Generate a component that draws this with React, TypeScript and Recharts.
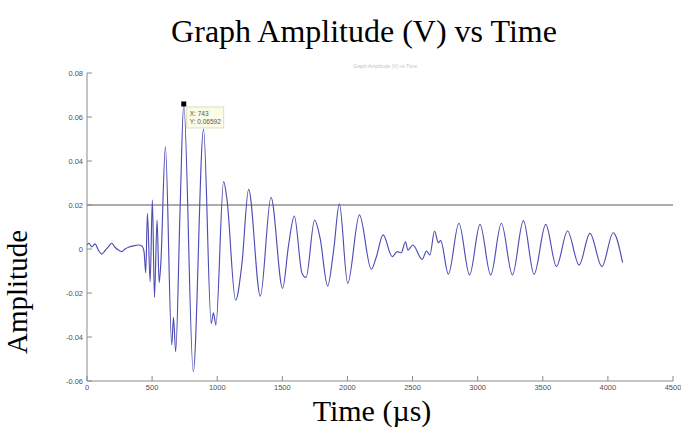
import React from 'react';
import { LineChart, Line, XAxis, YAxis, ReferenceLine, ReferenceDot } from 'recharts';

// ---- data ----
const timeUs: number[] = [
  0, 15, 36, 62, 87, 113, 138, 164, 190, 215, 241, 267, 292, 318, 356, 395, 421, 438,
  451, 464, 485, 502, 518, 538, 554, 567, 602, 651, 664, 681, 715, 743, 816, 895,
  954, 971, 990, 1049, 1074, 1141, 1190, 1241, 1331, 1413, 1502, 1548, 1592, 1651, 1682,
  1748, 1790, 1848, 1894, 1938, 2002, 2092, 2183, 2220, 2274, 2344, 2382, 2413, 2446,
  2464, 2502, 2574, 2607, 2633, 2669, 2698, 2716, 2775, 2856, 2938, 3018, 3100, 3182,
  3267, 3351, 3433, 3523, 3605, 3690, 3779, 3862, 3954, 4041, 4113,
];
const amplitudeV: number[] = [
  0.0018, 0.0026, 0.001, 0.0023, -0.0005, -0.0023, -0.0008, 0.001, 0.0026, 0.0008, -0.0005, -0.0012, 0.0, 0.0008, 0.0014, 0.0018, 0.0014, -0.0012,
  -0.0108, 0.0162, -0.0149, 0.0223, -0.022, 0.0132, -0.0153, -0.0064, 0.0465, -0.0436, -0.031, -0.0467, 0.0185, 0.06592, -0.0558, 0.0545,
  -0.0338, -0.029, -0.0345, 0.0306, 0.023, -0.0233, -0.0065, 0.0271, -0.0214, 0.0235, -0.0179, 0.0018, 0.015, -0.011, -0.0129,
  0.0132, 0.0049, -0.0168, -0.0005, 0.0205, -0.0156, 0.0155, -0.0092, -0.004, 0.0064, -0.0035, -0.0012, -0.0017, 0.0033,
  -0.0005, 0.0018, -0.0047, -0.0009, -0.0027, 0.0082, 0.0029, 0.0038, -0.0114, 0.0117, -0.0118, 0.0112, -0.0118, 0.0117,
  -0.0118, 0.0129, -0.0115, 0.0112, -0.008, 0.0082, -0.0073, 0.0071, -0.008, 0.0074, -0.0062,
];
const xTicks: number[] = [0, 500, 1000, 1500, 2000, 2500, 3000, 3500, 4000, 4500];
const yTicks: number[] = [-0.06, -0.04, -0.02, 0, 0.02, 0.04, 0.06, 0.08];
const thresholdV = 0.02;
const cursorX = 743;
const cursorY = 0.06592;
const titleText = 'Graph Amplitude (V) vs Time';
const xTitle = 'Time (µs)';
const yTitle = 'Amplitude';

const data = timeUs.map((t, i) => ({ t, v: amplitudeV[i] }));

const AXIS = '#8a8a8a';
const TICKTXT = '#505050';
const TICKFONT = '"Liberation Sans", Arial, sans-serif';
const SERIF = '"Liberation Serif", "Times New Roman", serif';

const fmtY = (v: number) => (v === 0 ? '0' : v.toFixed(2));

const BottomTick = (p: any) => {
  const { x, y, payload } = p;
  return (
    <g>
      <line x1={x} x2={x} y1={y} y2={y - 5} stroke={AXIS} strokeWidth={1} />
      <text x={x} y={y + 9} textAnchor="middle" fontSize={7.5} fill={TICKTXT} fontFamily={TICKFONT}>
        {payload.value}
      </text>
    </g>
  );
};
const LeftTick = (p: any) => {
  const { x, y, payload } = p;
  return (
    <g>
      <line x1={x} x2={x + 5} y1={y} y2={y} stroke={AXIS} strokeWidth={1} />
      <text x={x - 4} y={y} dy="0.35em" textAnchor="end" fontSize={7.5} fill={TICKTXT} fontFamily={TICKFONT}>
        {fmtY(payload.value)}
      </text>
    </g>
  );
};
const TopTick = (p: any) => {
  const { x, y } = p;
  return <line x1={x} x2={x} y1={y} y2={y + 5} stroke={AXIS} strokeWidth={1} />;
};
const RightTick = (p: any) => {
  const { x, y } = p;
  return <line x1={x} x2={x - 5} y1={y} y2={y} stroke={AXIS} strokeWidth={1} />;
};

const CursorShape = (p: any) => {
  const { cx, cy } = p;
  return (
    <g>
      <rect x={cx + 3} y={cy + 3} width={37} height={21} fill="#fbfbe6" stroke="#d6d6b8" strokeWidth={0.8} />
      <text x={cx + 6} y={cy + 12} fontSize={6.5} fill="#555" fontFamily={TICKFONT}>{`X: ${cursorX}`}</text>
      <text x={cx + 6} y={cy + 20} fontSize={6.5} fill="#555" fontFamily={TICKFONT}>{`Y: ${cursorY}`}</text>
      <rect x={cx - 2.5} y={cy - 2.5} width={5} height={5} fill="#000" />
    </g>
  );
};

export default function App() {
  return (
    <div style={{ position: 'absolute', left: 0, top: 0, width: 681, height: 441, background: '#fff' }}>
      <LineChart width={681} height={441} data={data} margin={{ top: 73, right: 8, bottom: 40, left: 0 }}>
        <XAxis
          dataKey="t"
          type="number"
          domain={[0, 4500]}
          ticks={xTicks}
          allowDataOverflow
          height={20}
          tickSize={0}
          tickMargin={0}
          tickLine={false}
          axisLine={{ stroke: AXIS }}
          tick={<BottomTick />}
          interval={0}
        />
        <XAxis
          xAxisId="top"
          orientation="top"
          dataKey="t"
          type="number"
          domain={[0, 4500]}
          ticks={xTicks}
          height={0}
          tickSize={0}
          tickMargin={0}
          tickLine={false}
          axisLine={{ stroke: AXIS }}
          tick={<TopTick />}
          interval={0}
        />
        <YAxis
          type="number"
          domain={[-0.06, 0.08]}
          ticks={yTicks}
          width={87}
          tickSize={0}
          tickMargin={0}
          tickLine={false}
          axisLine={{ stroke: AXIS }}
          tick={<LeftTick />}
          interval={0}
        />
        <YAxis
          yAxisId="right"
          orientation="right"
          type="number"
          domain={[-0.06, 0.08]}
          ticks={yTicks}
          width={0}
          tickSize={0}
          tickMargin={0}
          tickLine={false}
          axisLine={{ stroke: AXIS }}
          tick={<RightTick />}
          interval={0}
        />
        <ReferenceLine y={thresholdV} stroke="#5a5a5a" strokeWidth={1} />
        <Line
          type="monotone"
          dataKey="v"
          stroke="#4d4db4"
          strokeWidth={1.15}
          dot={false}
          isAnimationActive={false}
        />
        <ReferenceDot x={cursorX} y={cursorY} r={3} shape={<CursorShape />} />
      </LineChart>
      <svg width={681} height={441} style={{ position: 'absolute', left: 0, top: 0, pointerEvents: 'none' }}>
        <text x={364} y={42} fontSize={32} textAnchor="middle" fill="#000" fontFamily={SERIF}>
          {titleText}
        </text>
        <text x={385} y={68} fontSize={5} textAnchor="middle" fill="#c4c4c4" fontFamily={TICKFONT}>
          {titleText}
        </text>
        <text x={372} y={421} fontSize={30} textAnchor="middle" fill="#000" fontFamily={SERIF}>
          {xTitle}
        </text>
        <text
          x={27}
          y={292}
          fontSize={29}
          textAnchor="middle"
          fill="#000"
          transform="rotate(-90 27 292)"
          fontFamily={SERIF}
        >
          {yTitle}
        </text>
      </svg>
    </div>
  );
}
